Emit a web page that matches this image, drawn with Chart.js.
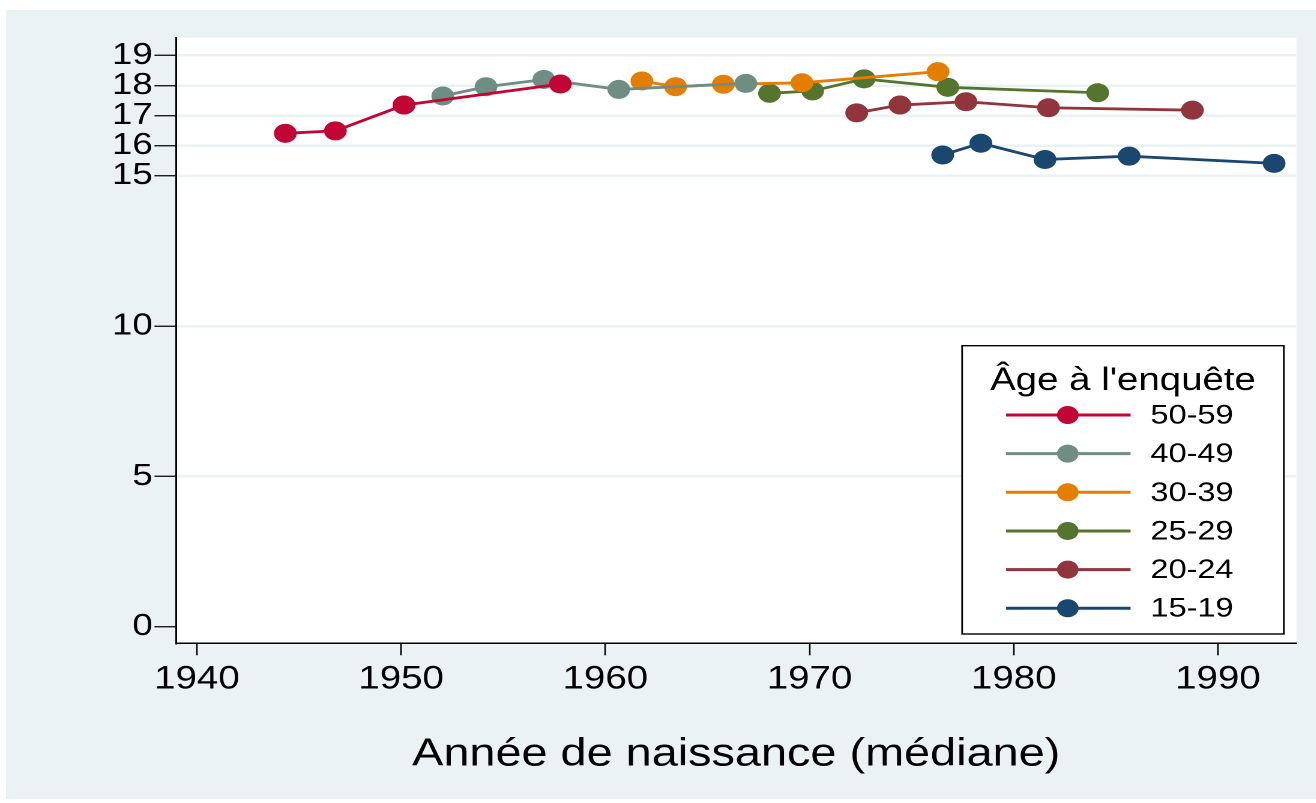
<!DOCTYPE html>
<html><head><meta charset="utf-8">
<script src="https://cdn.jsdelivr.net/npm/chart.js@4"></script>
<style>
html,body{margin:0;padding:0;background:#fff;width:1316px;height:803px;overflow:hidden}
#bg{position:absolute;left:6px;top:10px;width:1310px;height:789px;background:#eaf2f3}
#wrap{position:absolute;left:0;top:0;width:1096.67px;height:803px;transform:scaleX(1.2);transform-origin:0 0}
</style></head><body>
<div id="bg"></div>
<div id="wrap"><canvas id="c"></canvas></div>
<script>
// ---- data ----
const seriesLabels = ['50-59', '40-49', '30-39', '25-29', '20-24', '15-19'];
const seriesColors = ['#c10534', '#6e8e84', '#e37e00', '#55752f', '#90353b', '#1a476f'];

const years_50_59 = [1944.33, 1946.78, 1950.14, 1957.80];
const ages_50_59  = [16.41, 16.49, 17.35, 18.05];

const years_40_49 = [1952.04, 1954.16, 1956.99, 1960.66, 1966.88];
const ages_40_49  = [17.65, 17.96, 18.20, 17.87, 18.07];

const years_30_39 = [1961.79, 1963.44, 1965.78, 1969.63, 1976.29];
const ages_30_39  = [18.15, 17.96, 18.04, 18.09, 18.46];

const years_25_29 = [1968.04, 1970.15, 1972.67, 1976.77, 1984.11];
const ages_25_29  = [17.74, 17.82, 18.22, 17.94, 17.76];

const years_20_24 = [1972.31, 1974.43, 1977.66, 1981.70, 1988.75];
const ages_20_24  = [17.09, 17.35, 17.46, 17.26, 17.18];

const years_15_19 = [1976.52, 1978.39, 1981.53, 1985.65, 1992.75];
const ages_15_19  = [15.69, 16.08, 15.54, 15.65, 15.41];

const xTicks = [1940, 1950, 1960, 1970, 1980, 1990];
const yTicks = [0, 5, 10, 15, 16, 17, 18, 19];

const xTitle = 'Année de naissance (médiane)';
const legendTitle = "Âge à l'enquête";

// ---- build datasets ----
const allYears = [years_50_59, years_40_49, years_30_39, years_25_29, years_20_24, years_15_19];
const allAges  = [ages_50_59, ages_40_49, ages_30_39, ages_25_29, ages_20_24, ages_15_19];
const FONT = "'Liberation Sans', Arial, sans-serif";
const GRID = '#eaf2f3';

const datasets = seriesLabels.map((lab, i) => ({
  label: lab,
  data: allYears[i].map((x, j) => ({x: x, y: allAges[i][j]})),
  borderColor: seriesColors[i],
  backgroundColor: seriesColors[i],
  pointBackgroundColor: seriesColors[i],
  pointBorderWidth: 0,
  pointRadius: 9.5,
  borderWidth: 2.8,
  showLine: true,
  tension: 0
}));

const plotBg = {
  id: 'plotBg',
  beforeDraw(chart) {
    const {ctx, chartArea: a} = chart;
    ctx.save();
    ctx.fillStyle = '#ffffff';
    ctx.fillRect(a.left, a.top, a.right - a.left, a.bottom - a.top);
    ctx.restore();
  }
};

const customLegend = {
  id: 'customLegend',
  afterDatasetsDraw(chart) {
    const ctx = chart.ctx;
    const L = 801.4, R = 1069.4, T = 345.7, B = 634;
    ctx.save();
    ctx.fillStyle = '#ffffff';
    ctx.fillRect(L, T, R - L, B - T);
    ctx.strokeStyle = '#000000';
    ctx.lineWidth = 1.4;
    ctx.strokeRect(L, T, R - L, B - T);
    ctx.fillStyle = '#000';
    ctx.font = '32px ' + FONT;
    ctx.textAlign = 'center';
    ctx.textBaseline = 'alphabetic';
    ctx.fillText(legendTitle, (L + R) / 2, 390);
    ctx.font = '27px ' + FONT;
    ctx.textAlign = 'left';
    ctx.textBaseline = 'middle';
    chart.data.datasets.forEach((ds, i) => {
      const y = 415 + i * 38.65;
      ctx.strokeStyle = ds.borderColor;
      ctx.lineWidth = 3;
      ctx.beginPath();
      ctx.moveTo(838, y);
      ctx.lineTo(941.7, y);
      ctx.stroke();
      ctx.fillStyle = ds.borderColor;
      ctx.beginPath();
      ctx.arc(889.4, y, 9, 0, Math.PI * 2);
      ctx.fill();
      ctx.fillStyle = '#000';
      ctx.fillText(ds.label, 958.3, y + 1);
    });
    ctx.restore();
  }
};

new Chart(document.getElementById('c'), {
  type: 'scatter',
  data: {datasets},
  plugins: [plotBg, customLegend],
  options: {
    responsive: true,
    maintainAspectRatio: false,
    devicePixelRatio: 2,
    animation: false,
    events: [],
    layout: {padding: {left: 0, right: 16.9, top: 37.7, bottom: 0}},
    plugins: {legend: {display: false}, tooltip: {enabled: false}},
    scales: {
      x: {
        type: 'linear',
        min: 1938.98,
        max: 1993.84,
        afterBuildTicks(scale) { scale.ticks = xTicks.map(v => ({value: v})); },
        afterFit(scale) { scale.height = 803 - 643.3; },
        ticks: {
          font: {family: FONT, size: 32},
          color: '#000',
          padding: 5,
          maxRotation: 0,
          autoSkip: false,
          callback: v => String(v)
        },
        grid: {drawOnChartArea: false, tickColor: '#000', tickLength: 12, tickWidth: 1.3},
        border: {display: true, color: '#000', width: 1.5},
        title: {display: true, text: xTitle, font: {family: FONT, size: 39}, color: '#000',
                padding: {top: 0, bottom: 25}}
      },
      y: {
        type: 'linear',
        min: -0.55,
        max: 19.59,
        afterBuildTicks(scale) { scale.ticks = yTicks.map(v => ({value: v})); },
        afterFit(scale) { scale.width = 146.67; },
        ticks: {
          font: {family: FONT, size: 30.5},
          color: '#000',
          padding: 1.5,
          autoSkip: false,
          callback: v => String(v)
        },
        grid: {
          color: c => (c.tick && c.tick.value === 0) ? 'rgba(0,0,0,0)' : GRID,
          lineWidth: 2.5,
          tickColor: '#000',
          tickLength: 18,
          tickWidth: 1.3
        },
        border: {display: true, color: '#000', width: 1.5}
      }
    }
  }
});
</script>
</body></html>
